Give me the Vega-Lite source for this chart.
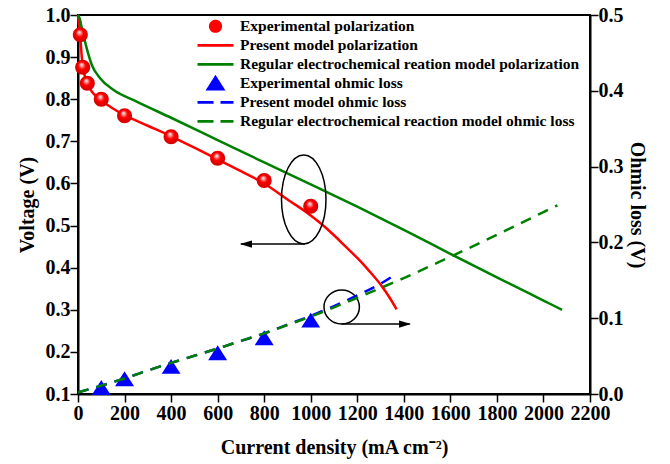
{
  "$schema": "https://vega.github.io/schema/vega-lite/v6.json",
  "width": 512,
  "height": 379,
  "autosize": {"type": "none"},
  "padding": {"left": 78, "top": 15, "right": 80, "bottom": 70},
  "background": "white",
  "config": {
    "view": {"stroke": "black", "strokeWidth": 2},
    "axis": {
      "grid": false,
      "labelFont": "Liberation Serif",
      "labelFontWeight": "bold",
      "labelFontSize": 20,
      "labelColor": "black",
      "titleFont": "Liberation Serif",
      "titleFontWeight": "bold",
      "titleFontSize": 20,
      "titleColor": "black",
      "domainColor": "black",
      "domainWidth": 2,
      "tickColor": "black",
      "tickWidth": 1.5
    }
  },
  "datasets": {
    "main": [
      {"series": "Experimental polarization", "x": 10, "y": 0.953},
      {"series": "Experimental polarization", "x": 20, "y": 0.876},
      {"series": "Experimental polarization", "x": 40, "y": 0.838},
      {"series": "Experimental polarization", "x": 100, "y": 0.800},
      {"series": "Experimental polarization", "x": 200, "y": 0.761},
      {"series": "Experimental polarization", "x": 400, "y": 0.711},
      {"series": "Experimental polarization", "x": 600, "y": 0.660},
      {"series": "Experimental polarization", "x": 800, "y": 0.607},
      {"series": "Experimental polarization", "x": 1000, "y": 0.546},

      {"series": "Present model polarization", "x": 0, "y": 1.0},
      {"series": "Present model polarization", "x": 4, "y": 0.976},
      {"series": "Present model polarization", "x": 8, "y": 0.955},
      {"series": "Present model polarization", "x": 12, "y": 0.932},
      {"series": "Present model polarization", "x": 16, "y": 0.902},
      {"series": "Present model polarization", "x": 20, "y": 0.882},
      {"series": "Present model polarization", "x": 26, "y": 0.862},
      {"series": "Present model polarization", "x": 35, "y": 0.845},
      {"series": "Present model polarization", "x": 44, "y": 0.832},
      {"series": "Present model polarization", "x": 60, "y": 0.818},
      {"series": "Present model polarization", "x": 80, "y": 0.806},
      {"series": "Present model polarization", "x": 100, "y": 0.797},
      {"series": "Present model polarization", "x": 150, "y": 0.778},
      {"series": "Present model polarization", "x": 200, "y": 0.762},
      {"series": "Present model polarization", "x": 300, "y": 0.737},
      {"series": "Present model polarization", "x": 400, "y": 0.712},
      {"series": "Present model polarization", "x": 500, "y": 0.685},
      {"series": "Present model polarization", "x": 600, "y": 0.657},
      {"series": "Present model polarization", "x": 700, "y": 0.629},
      {"series": "Present model polarization", "x": 800, "y": 0.600},
      {"series": "Present model polarization", "x": 900, "y": 0.562},
      {"series": "Present model polarization", "x": 1000, "y": 0.524},
      {"series": "Present model polarization", "x": 1050, "y": 0.502},
      {"series": "Present model polarization", "x": 1100, "y": 0.477},
      {"series": "Present model polarization", "x": 1150, "y": 0.450},
      {"series": "Present model polarization", "x": 1200, "y": 0.423},
      {"series": "Present model polarization", "x": 1250, "y": 0.393},
      {"series": "Present model polarization", "x": 1300, "y": 0.360},
      {"series": "Present model polarization", "x": 1340, "y": 0.328},
      {"series": "Present model polarization", "x": 1369, "y": 0.301},

      {"series": "Regular electrochemical reation model polarization", "x": 0, "y": 1.0},
      {"series": "Regular electrochemical reation model polarization", "x": 8, "y": 0.99},
      {"series": "Regular electrochemical reation model polarization", "x": 15, "y": 0.972},
      {"series": "Regular electrochemical reation model polarization", "x": 23, "y": 0.953},
      {"series": "Regular electrochemical reation model polarization", "x": 37, "y": 0.922},
      {"series": "Regular electrochemical reation model polarization", "x": 59, "y": 0.882},
      {"series": "Regular electrochemical reation model polarization", "x": 95, "y": 0.850},
      {"series": "Regular electrochemical reation model polarization", "x": 150, "y": 0.823},
      {"series": "Regular electrochemical reation model polarization", "x": 250, "y": 0.795},
      {"series": "Regular electrochemical reation model polarization", "x": 400, "y": 0.756},
      {"series": "Regular electrochemical reation model polarization", "x": 600, "y": 0.703},
      {"series": "Regular electrochemical reation model polarization", "x": 800, "y": 0.650},
      {"series": "Regular electrochemical reation model polarization", "x": 1000, "y": 0.598},
      {"series": "Regular electrochemical reation model polarization", "x": 1200, "y": 0.545},
      {"series": "Regular electrochemical reation model polarization", "x": 1400, "y": 0.490},
      {"series": "Regular electrochemical reation model polarization", "x": 1600, "y": 0.433},
      {"series": "Regular electrochemical reation model polarization", "x": 1800, "y": 0.377},
      {"series": "Regular electrochemical reation model polarization", "x": 2000, "y": 0.322},
      {"series": "Regular electrochemical reation model polarization", "x": 2080, "y": 0.300},

      {"series": "Experimental ohmic loss", "x": 100, "y": 0.0078},
      {"series": "Experimental ohmic loss", "x": 200, "y": 0.0194},
      {"series": "Experimental ohmic loss", "x": 400, "y": 0.0356},
      {"series": "Experimental ohmic loss", "x": 600, "y": 0.0537},
      {"series": "Experimental ohmic loss", "x": 800, "y": 0.0735},
      {"series": "Experimental ohmic loss", "x": 1000, "y": 0.0967},

      {"series": "Present model ohmic loss", "x": 0, "y": 0.002},
      {"series": "Present model ohmic loss", "x": 100, "y": 0.011},
      {"series": "Present model ohmic loss", "x": 200, "y": 0.0205},
      {"series": "Present model ohmic loss", "x": 300, "y": 0.031},
      {"series": "Present model ohmic loss", "x": 400, "y": 0.041},
      {"series": "Present model ohmic loss", "x": 500, "y": 0.0505},
      {"series": "Present model ohmic loss", "x": 600, "y": 0.060},
      {"series": "Present model ohmic loss", "x": 700, "y": 0.070},
      {"series": "Present model ohmic loss", "x": 800, "y": 0.080},
      {"series": "Present model ohmic loss", "x": 900, "y": 0.0915},
      {"series": "Present model ohmic loss", "x": 1000, "y": 0.103},
      {"series": "Present model ohmic loss", "x": 1100, "y": 0.116},
      {"series": "Present model ohmic loss", "x": 1200, "y": 0.130},
      {"series": "Present model ohmic loss", "x": 1300, "y": 0.1455},
      {"series": "Present model ohmic loss", "x": 1370, "y": 0.159},

      {"series": "Regular electrochemical reaction model ohmic loss", "x": 0, "y": 0.002},
      {"series": "Regular electrochemical reaction model ohmic loss", "x": 100, "y": 0.011},
      {"series": "Regular electrochemical reaction model ohmic loss", "x": 200, "y": 0.0205},
      {"series": "Regular electrochemical reaction model ohmic loss", "x": 300, "y": 0.031},
      {"series": "Regular electrochemical reaction model ohmic loss", "x": 400, "y": 0.041},
      {"series": "Regular electrochemical reaction model ohmic loss", "x": 500, "y": 0.0505},
      {"series": "Regular electrochemical reaction model ohmic loss", "x": 600, "y": 0.060},
      {"series": "Regular electrochemical reaction model ohmic loss", "x": 700, "y": 0.070},
      {"series": "Regular electrochemical reaction model ohmic loss", "x": 800, "y": 0.080},
      {"series": "Regular electrochemical reaction model ohmic loss", "x": 900, "y": 0.091},
      {"series": "Regular electrochemical reaction model ohmic loss", "x": 1000, "y": 0.102},
      {"series": "Regular electrochemical reaction model ohmic loss", "x": 1200, "y": 0.127},
      {"series": "Regular electrochemical reaction model ohmic loss", "x": 1400, "y": 0.153},
      {"series": "Regular electrochemical reaction model ohmic loss", "x": 1600, "y": 0.181},
      {"series": "Regular electrochemical reaction model ohmic loss", "x": 1800, "y": 0.210},
      {"series": "Regular electrochemical reaction model ohmic loss", "x": 2000, "y": 0.240},
      {"series": "Regular electrochemical reaction model ohmic loss", "x": 2060, "y": 0.249}
    ],
    "ann": [
      {"kind": "ellipse1", "x": 970, "y": 0.562},
      {"kind": "ellipse2", "x": 1133, "y": 0.3066},
      {"kind": "arrow", "x": 975, "x2": 700, "y": 0.456},
      {"kind": "arrow", "x": 1133, "x2": 1425, "y": 0.266},
      {"kind": "headL", "x": 696, "y": 0.456},
      {"kind": "headR", "x": 1431, "y": 0.266}
    ]
  },
  "layer": [
    {
      "layer": [
        {
          "data": {"name": "main"},
          "transform": [{"filter": "datum.series === 'Present model polarization' || datum.series === 'Regular electrochemical reation model polarization'"}],
          "mark": {"type": "line", "strokeWidth": 2.5, "interpolate": "monotone"},
          "encoding": {
            "x": {"field": "x", "type": "quantitative", "title": "Current density (mA cm⁻²)", "scale": {"domain": [0, 2200], "nice": false},
              "axis": {"values": [0,100,200,300,400,500,600,700,800,900,1000,1100,1200,1300,1400,1500,1600,1700,1800,1900,2000,2100,2200], "format": "d", "labelExpr": "datum.value % 200 === 0 ? datum.label : ''", "tickSize": 8, "labelPadding": 1, "titlePadding": 14, "labelFlush": false, "labelOverlap": false,
                "encode": {"ticks": {"y2": {"condition": {"test": "datum.value % 200 === 0", "value": -8}, "value": -4}}}}},
            "y": {"field": "y", "type": "quantitative", "title": "Voltage (V)", "scale": {"domain": [0.1, 1.0], "nice": false, "zero": false},
              "axis": {"orient": "left", "values": [0.1,0.15,0.2,0.25,0.3,0.35,0.4,0.45,0.5,0.55,0.6,0.65,0.7,0.75,0.8,0.85,0.9,0.95,1.0], "format": ".1f", "labelExpr": "abs(datum.value*10 - round(datum.value*10)) < 0.001 ? datum.label : ''", "tickSize": 8, "labelPadding": 0, "titlePadding": 8, "labelFlush": false, "labelOverlap": false,
                "encode": {"ticks": {"x2": {"condition": {"test": "abs(datum.value*10 - round(datum.value*10)) < 0.001", "value": 8}, "value": 4}}}}},
            "color": {"field": "series", "type": "nominal", "legend": null,
              "scale": {"domain": ["Experimental polarization", "Present model polarization", "Regular electrochemical reation model polarization", "Experimental ohmic loss", "Present model ohmic loss", "Regular electrochemical reaction model ohmic loss"], "range": ["#ff0000", "#ff0000", "#008000", "#0000ff", "#0000ff", "#008000"]}}
          }
        },
        {
          "data": {"name": "main"},
          "transform": [{"filter": "datum.series === 'Experimental polarization'"}],
          "mark": {"type": "point", "filled": true, "size": 2675, "opacity": 1, "strokeWidth": 0,
            "fill": {"gradient": "radial", "x1": 0.42, "y1": 0.32, "r1": 0, "x2": 0.5, "y2": 0.5, "r2": 0.55, "stops": [{"offset": 0, "color": "#ffffff"}, {"offset": 0.2, "color": "#ff9090"}, {"offset": 0.45, "color": "#ff0000"}, {"offset": 1, "color": "#c80000"}]}},
          "encoding": {
            "x": {"field": "x", "type": "quantitative", "title": "Current density (mA cm⁻²)"},
            "y": {"field": "y", "type": "quantitative", "title": "Voltage (V)"},
            "shape": {"field": "series", "type": "nominal", "legend": null,
              "scale": {"domain": ["Experimental polarization", "Present model polarization", "Regular electrochemical reation model polarization", "Experimental ohmic loss", "Present model ohmic loss", "Regular electrochemical reaction model ohmic loss"],
                "range": ["M0.29,0 C0.29,0.16 0.16,0.29 0,0.29 C-0.16,0.29 -0.29,0.16 -0.29,0 C-0.29,-0.16 -0.16,-0.29 0,-0.29 C0.16,-0.29 0.29,-0.16 0.29,0 Z", "M-1,0 L1,0", "M-1,0 L1,0", "M0,-0.33 L0.42,0.33 L-0.42,0.33 Z", "M-1,0 L1,0", "M-1,0 L1,0"]}}
          }
        },
        {
          "data": {"name": "ann"},
          "transform": [{"filter": "datum.kind === 'ellipse1'"}],
          "mark": {"type": "point", "filled": false, "stroke": "black", "strokeWidth": 1.5, "opacity": 1, "size": 7921,
            "shape": "M0.5,0 C0.5,0.552 0.276,1 0,1 C-0.276,1 -0.5,0.552 -0.5,0 C-0.5,-0.552 -0.276,-1 0,-1 C0.276,-1 0.5,-0.552 0.5,0 Z"},
          "encoding": {
            "x": {"field": "x", "type": "quantitative", "title": "Current density (mA cm⁻²)"},
            "y": {"field": "y", "type": "quantitative", "title": "Voltage (V)"}
          }
        },
        {
          "data": {"name": "ann"},
          "transform": [{"filter": "datum.kind === 'ellipse2'"}],
          "mark": {"type": "point", "filled": false, "stroke": "black", "strokeWidth": 1.5, "opacity": 1, "size": 1253,
            "shape": "M1,0 C1,0.53 0.552,0.96 0,0.96 C-0.552,0.96 -1,0.53 -1,0 C-1,-0.53 -0.552,-0.96 0,-0.96 C0.552,-0.96 1,-0.53 1,0 Z"},
          "encoding": {
            "x": {"field": "x", "type": "quantitative", "title": "Current density (mA cm⁻²)"},
            "y": {"field": "y", "type": "quantitative", "title": "Voltage (V)"}
          }
        },
        {
          "data": {"name": "ann"},
          "transform": [{"filter": "datum.kind === 'arrow'"}],
          "mark": {"type": "rule", "color": "black", "strokeWidth": 1.5},
          "encoding": {
            "x": {"field": "x", "type": "quantitative", "title": "Current density (mA cm⁻²)"},
            "x2": {"field": "x2"},
            "y": {"field": "y", "type": "quantitative", "title": "Voltage (V)"}
          }
        },
        {
          "data": {"name": "ann"},
          "transform": [{"filter": "datum.kind === 'headL'"}],
          "mark": {"type": "point", "filled": true, "color": "black", "opacity": 1, "size": 144, "strokeWidth": 0, "shape": "M0,0 L2,-0.6 L2,0.6 Z"},
          "encoding": {
            "x": {"field": "x", "type": "quantitative", "title": "Current density (mA cm⁻²)"},
            "y": {"field": "y", "type": "quantitative", "title": "Voltage (V)"}
          }
        },
        {
          "data": {"name": "ann"},
          "transform": [{"filter": "datum.kind === 'headR'"}],
          "mark": {"type": "point", "filled": true, "color": "black", "opacity": 1, "size": 144, "strokeWidth": 0, "shape": "M0,0 L-2,-0.6 L-2,0.6 Z"},
          "encoding": {
            "x": {"field": "x", "type": "quantitative", "title": "Current density (mA cm⁻²)"},
            "y": {"field": "y", "type": "quantitative", "title": "Voltage (V)"}
          }
        }
      ]
    },
    {
      "resolve": {"legend": {"color": "independent", "shape": "independent", "stroke": "independent", "strokeDash": "independent"}},
      "layer": [
        {
          "data": {"name": "main"},
          "transform": [{"filter": "datum.series === 'Experimental ohmic loss'"}],
          "mark": {"type": "point", "filled": true, "size": 1111, "opacity": 1, "strokeWidth": 2.7},
          "encoding": {
            "x": {"field": "x", "type": "quantitative", "title": "Current density (mA cm⁻²)"},
            "y": {"field": "y", "type": "quantitative", "title": "Ohmic loss (V)", "scale": {"domain": [0, 0.5], "nice": false},
              "axis": {"orient": "right", "values": [0,0.05,0.1,0.15,0.2,0.25,0.3,0.35,0.4,0.45,0.5], "format": ".1f", "labelExpr": "abs(datum.value*10 - round(datum.value*10)) < 0.001 ? datum.label : ''", "tickSize": 8, "labelPadding": 0, "titlePadding": 3, "labelFlush": false, "labelOverlap": false,
                "encode": {"ticks": {"x2": {"condition": {"test": "abs(datum.value*10 - round(datum.value*10)) < 0.001", "value": -8}, "value": -4}}}}},
            "color": {"field": "series", "type": "nominal",
              "scale": {"domain": ["Experimental polarization", "Present model polarization", "Regular electrochemical reation model polarization", "Experimental ohmic loss", "Present model ohmic loss", "Regular electrochemical reaction model ohmic loss"], "range": ["#ff0000", "#ff0000", "#008000", "#0000ff", "#0000ff", "#008000"]},
              "legend": {"title": null, "orient": "none", "legendX": 118, "legendY": 2, "padding": 0, "labelFont": "Liberation Serif", "labelFontWeight": "bold", "labelFontSize": 15.5, "labelColor": "black", "labelLimit": 600, "labelOffset": 5, "symbolSize": 1296, "rowPadding": 0, "clipHeight": 18.6, "symbolStrokeWidth": 2.7}},
            "stroke": {"field": "series", "type": "nominal",
              "scale": {"domain": ["Experimental polarization", "Present model polarization", "Regular electrochemical reation model polarization", "Experimental ohmic loss", "Present model ohmic loss", "Regular electrochemical reaction model ohmic loss"], "range": ["#ff0000", "#ff0000", "#008000", "#0000ff", "#0000ff", "#008000"]},
              "legend": {"title": null, "orient": "none", "legendX": 118, "legendY": 2, "padding": 0, "labelFont": "Liberation Serif", "labelFontWeight": "bold", "labelFontSize": 15.5, "labelColor": "black", "labelLimit": 600, "labelOffset": 5, "symbolSize": 1296, "rowPadding": 0, "clipHeight": 18.6, "symbolStrokeWidth": 2.7}},
            "strokeDash": {"field": "series", "type": "nominal",
              "scale": {"domain": ["Experimental polarization", "Present model polarization", "Regular electrochemical reation model polarization", "Experimental ohmic loss", "Present model ohmic loss", "Regular electrochemical reaction model ohmic loss"], "range": [[1, 0], [1, 0], [1, 0], [1, 0], [16, 7], [16, 7]]},
              "legend": {"title": null, "orient": "none", "legendX": 118, "legendY": 2, "padding": 0, "labelFont": "Liberation Serif", "labelFontWeight": "bold", "labelFontSize": 15.5, "labelColor": "black", "labelLimit": 600, "labelOffset": 5, "symbolSize": 1296, "rowPadding": 0, "clipHeight": 18.6, "symbolStrokeWidth": 2.7}},
            "shape": {"field": "series", "type": "nominal",
              "scale": {"domain": ["Experimental polarization", "Present model polarization", "Regular electrochemical reation model polarization", "Experimental ohmic loss", "Present model ohmic loss", "Regular electrochemical reaction model ohmic loss"],
                "range": ["M0.29,0 C0.29,0.16 0.16,0.29 0,0.29 C-0.16,0.29 -0.29,0.16 -0.29,0 C-0.29,-0.16 -0.16,-0.29 0,-0.29 C0.16,-0.29 0.29,-0.16 0.29,0 Z", "M-1,0 L1,0", "M-1,0 L1,0", "M0,-0.33 L0.42,0.33 L-0.42,0.33 Z", "M-1,0 L1,0", "M-1,0 L1,0"]},
              "legend": {"title": null, "orient": "none", "legendX": 118, "legendY": 2, "padding": 0, "labelFont": "Liberation Serif", "labelFontWeight": "bold", "labelFontSize": 15.5, "labelColor": "black", "labelLimit": 600, "labelOffset": 5, "symbolSize": 1296, "rowPadding": 0, "clipHeight": 18.6, "symbolStrokeWidth": 2.7}}
          }
        },
        {
          "data": {"name": "main"},
          "transform": [{"filter": "datum.series === 'Present model ohmic loss' || datum.series === 'Regular electrochemical reaction model ohmic loss'"}],
          "mark": {"type": "line", "strokeWidth": 2.5, "strokeDash": [11, 8], "interpolate": "monotone"},
          "encoding": {
            "x": {"field": "x", "type": "quantitative", "title": "Current density (mA cm⁻²)"},
            "y": {"field": "y", "type": "quantitative", "title": "Ohmic loss (V)"},
            "color": {"field": "series", "type": "nominal", "legend": null,
              "scale": {"domain": ["Experimental polarization", "Present model polarization", "Regular electrochemical reation model polarization", "Experimental ohmic loss", "Present model ohmic loss", "Regular electrochemical reaction model ohmic loss"], "range": ["#ff0000", "#ff0000", "#008000", "#0000ff", "#0000ff", "#008000"]}}
          }
        }
      ]
    }
  ],
  "resolve": {"scale": {"y": "independent"}, "legend": {"color": "independent", "shape": "independent", "stroke": "independent", "strokeDash": "independent"}}
}
